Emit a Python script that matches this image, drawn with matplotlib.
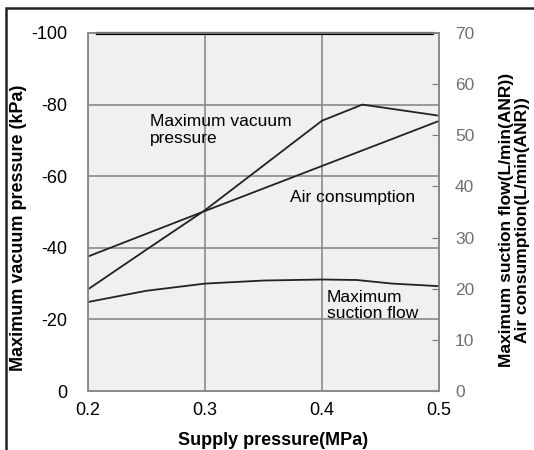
import matplotlib.pyplot as plt
from matplotlib.patches import Rectangle

plt.rcParams['font.family'] = ['Liberation Sans', 'DejaVu Sans']

# supply pressure (MPa)
vac_x = [0.2, 0.25, 0.3, 0.35, 0.4, 0.4345, 0.5]
vac_y = [-28.4, -39.5, -50.5, -63, -75.5, -80.0, -76.9]

air_x = [0.2, 0.3, 0.4, 0.5]
air_y = [26.3, 35.2, 44.0, 52.8]

suc_x = [0.2, 0.25, 0.3, 0.35, 0.4, 0.43, 0.46, 0.5]
suc_y = [17.4, 19.6, 21.0, 21.6, 21.8, 21.7, 21.0, 20.5]

x_ticks = [0.2, 0.3, 0.4, 0.5]
left_ticks = [0, -20, -40, -60, -80, -100]
right_ticks = [0, 10, 20, 30, 40, 50, 60, 70]

fig = plt.figure(figsize=(5.34, 4.5), dpi=100)
ax = fig.add_axes([0.1648, 0.1311, 0.6573, 0.7956])
ax2 = ax.twinx()

ax.set_facecolor('#f0f0f0')
ax.set_xlim(0.2, 0.5)
ax.set_ylim(0, -100)
ax2.set_ylim(0, 70)

ax.set_xticks(x_ticks)
ax.set_xticklabels(['0.2', '0.3', '0.4', '0.5'], fontsize=13)
ax.set_yticks(left_ticks)
ax.set_yticklabels([str(t) for t in left_ticks], fontsize=13)
ax.tick_params(axis='x', length=0, pad=8)
ax.tick_params(axis='y', length=0, pad=15)
ax.grid(True, color='#8a8a8a', linewidth=1.2)
ax.set_axisbelow(True)

ax2.set_yticks(right_ticks)
ax2.set_yticklabels([str(t) for t in right_ticks], fontsize=12.5, color='#707070')
ax2.tick_params(axis='y', direction='in', length=5, color='#777777', pad=11.5)

for a in (ax, ax2):
    for s in a.spines.values():
        s.set_color('#8a8a8a')
        s.set_linewidth(1.2)

# top border line
ax.plot([0.2077, 0.494], [-100, -100], color='black', linewidth=2.3, clip_on=False, zorder=5)

ax.plot(vac_x, vac_y, color='#222222', linewidth=1.3)
ax2.plot(air_x, air_y, color='#222222', linewidth=1.3)
ax2.plot(suc_x, suc_y, color='#222222', linewidth=1.3)

ax.text(0.253, -77.4, 'Maximum vacuum\npressure', fontsize=12.5, va='top', ha='left',
        linespacing=1.15)
ax2.text(0.4257, 37.9, 'Air consumption', fontsize=12.5, va='center', ha='center')
ax2.text(0.404, 19.8, 'Maximum\nsuction flow', fontsize=12.5, va='top', ha='left',
         linespacing=1.08)

ax.set_xlabel('Supply pressure(MPa)', fontsize=13, fontweight='bold')
ax.xaxis.set_label_coords(0.528, -0.115)
ax.set_ylabel('Maximum vacuum pressure (kPa)', fontsize=13, fontweight='bold')
ax.yaxis.set_label_coords(-0.174, 0.455)
ax2.set_ylabel('Maximum suction flow(L/min(ANR))\nAir consumption(L/min(ANR))',
               fontsize=12.5, fontweight='bold', linespacing=1.02)
ax2.yaxis.set_label_coords(1.172, 0.478)

fig.patches.append(Rectangle((6 / 534, -0.2), 1.5, 1.2 - 8 / 450,
                             transform=fig.transFigure, fill=False,
                             edgecolor='#222222', linewidth=1.8))

fig.savefig('out.png', dpi=100)
